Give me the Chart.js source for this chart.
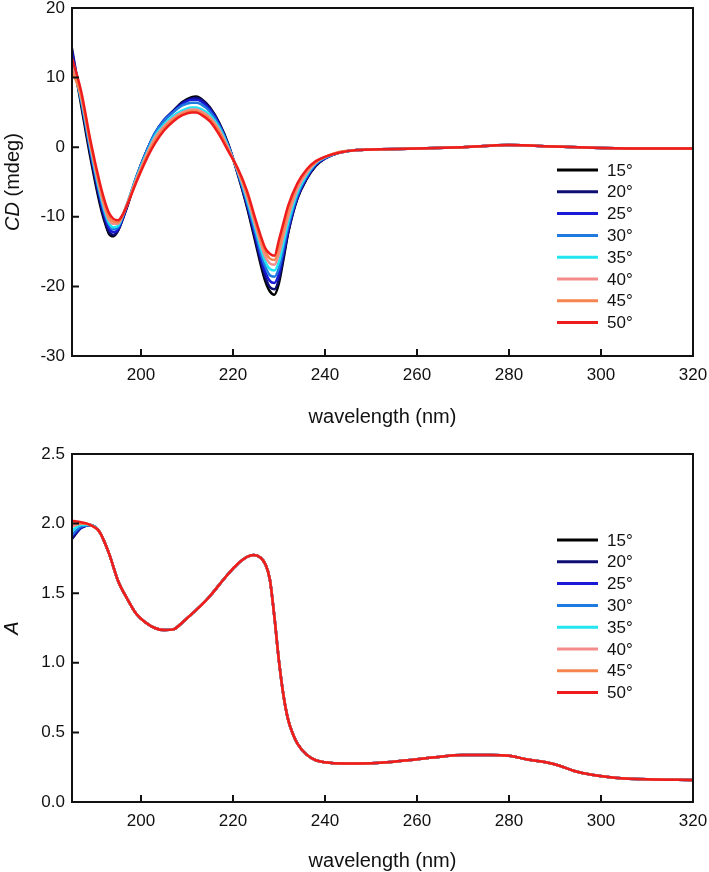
<!DOCTYPE html>
<html>
<head>
<meta charset="utf-8">
<script src="https://cdn.jsdelivr.net/npm/chart.js@4.4.1/dist/chart.umd.min.js"></script>
<style>
  html, body { margin: 0; padding: 0; background: #fff; overflow: hidden; }
  #wrap { position: relative; width: 709px; height: 872px; }
  .panel { position: absolute; left: 0; width: 709px; }
</style>
</head>
<body>
<div id="wrap">
  <div class="panel" style="top:0;height:430px"><canvas id="cdChart"></canvas></div>
  <div class="panel" style="top:430px;height:442px"><canvas id="absChart"></canvas></div>
</div>
<script>
// Temperaturas y colores
const tempLabels = ['15°', '20°', '25°', '30°', '35°', '40°', '45°', '50°'];
const tempColors = ['#000000', '#0d0d73', '#1a1ad6', '#1f7ae0', '#22e5f0', '#f48c8c', '#f5844f', '#ee1c1c'];

// Ejes
const waveTicks = [200, 220, 240, 260, 280, 300, 320];
const cdTicks = [-30, -20, -10, 0, 10, 20];
const absTicks = [0, 0.5, 1, 1.5, 2, 2.5];

// === CD (mdeg) ===
const cdWave = [185, 187, 189, 191, 192, 193, 194, 195, 196, 197, 199, 201, 203, 205, 207, 209, 211, 212, 213, 215,
  217, 219, 221, 223, 225, 226, 227, 228, 229, 230, 231, 232, 234, 236, 238, 240, 243,
  247, 252, 260, 270, 280, 290, 300, 310, 320];
const cdTail = [-0.4, -0.3, -0.2, 0.0, 0.3, 0.1, -0.1, -0.2, -0.2];
const cd15 = [13.5, 6.0, -1.5, -8.0, -10.5, -12.4, -12.8, -12.0, -10.3, -8.5, -4.3, -0.9, 1.8, 3.8, 5.2, 6.5, 7.2, 7.3, 7.0, 5.7,
  3.5, 0.4, -3.8, -8.5, -14.0, -16.8, -19.2, -20.7, -21.2, -19.5, -16.0, -12.3, -7.4, -4.6, -2.7, -1.6, -0.8];
const cd20 = [14.2, 6.5, -1.0, -7.6, -10.2, -12.1, -12.6, -12.0, -10.4, -8.5, -4.4, -0.9, 1.9, 3.9, 5.2, 6.4, 7.0, 7.1, 6.9, 5.6,
  3.4, 0.3, -3.7, -8.3, -13.6, -16.3, -18.6, -20.1, -20.4, -18.9, -15.6, -12.2, -7.3, -4.5, -2.6, -1.6, -0.8];
const cd25 = [13.6, 6.8, -0.5, -7.0, -9.7, -11.6, -12.2, -11.8, -10.2, -8.3, -4.3, -0.9, 2.0, 3.9, 5.1, 6.2, 6.8, 6.8, 6.6, 5.4,
  3.3, 0.2, -3.6, -8.0, -13.1, -15.7, -17.9, -19.2, -19.5, -18.1, -15.0, -11.8, -7.1, -4.4, -2.5, -1.6, -0.8];
const cd30 = [12.5, 6.6, -0.4, -6.7, -9.3, -11.1, -11.8, -11.5, -10.0, -8.1, -4.2, -0.9, 2.0, 3.8, 5.0, 6.0, 6.4, 6.4, 6.2, 5.1,
  3.1, 0.1, -3.5, -7.8, -12.6, -15.1, -17.1, -18.4, -18.6, -17.3, -14.4, -11.4, -6.9, -4.2, -2.4, -1.5, -0.8];
const cd35 = [12.0, 7.0, 0.0, -6.3, -8.9, -10.8, -11.5, -11.3, -9.9, -8.1, -4.4, -1.2, 1.6, 3.3, 4.5, 5.3, 5.7, 5.7, 5.5, 4.6,
  2.8, 0.0, -3.4, -7.4, -12.0, -14.4, -16.4, -17.5, -17.7, -16.4, -13.6, -10.8, -6.5, -4.0, -2.3, -1.5, -0.8];
const cd40 = [11.5, 7.2, 0.3, -5.9, -8.5, -10.4, -11.0, -11.0, -9.8, -8.1, -4.6, -1.4, 1.3, 3.0, 4.2, 5.0, 5.4, 5.4, 5.2, 4.3,
  2.5, -0.2, -3.3, -7.0, -11.5, -13.8, -15.7, -16.7, -16.9, -15.3, -12.6, -10.0, -6.0, -3.7, -2.2, -1.4, -0.8];
const cd45 = [11.0, 7.4, 0.6, -5.5, -8.0, -10.0, -10.7, -10.8, -9.8, -8.2, -4.8, -1.7, 0.9, 2.7, 4.0, 4.8, 5.2, 5.2, 4.9, 4.0,
  2.2, -0.4, -3.2, -6.6, -11.0, -13.2, -15.0, -16.0, -16.2, -14.3, -11.7, -9.2, -5.4, -3.4, -2.1, -1.4, -0.7];
const cd50 = [12.8, 8.0, 1.0, -5.0, -7.5, -9.4, -10.3, -10.5, -9.7, -8.3, -5.0, -2.0, 0.5, 2.4, 3.7, 4.6, 5.0, 5.0, 4.7, 3.7,
  1.8, -0.6, -3.0, -6.2, -10.6, -12.7, -14.5, -15.3, -15.6, -13.3, -10.8, -8.4, -5.2, -3.2, -2.0, -1.4, -0.8];

// === Absorbancia ===
const absWave = [185, 187, 189, 191, 193, 195, 197, 199, 201, 203, 205, 207, 209, 211, 213, 215, 217, 219, 221, 223,
  224.5, 226, 227, 228, 229, 230, 231, 232, 233, 234, 236, 238, 240, 244, 250, 258, 264, 270, 276, 280,
  284, 288, 291, 294, 298, 303, 310, 320];
const absCommon = [1.94, 1.79, 1.59, 1.46, 1.35, 1.29, 1.25, 1.235, 1.24, 1.29, 1.35, 1.41, 1.48, 1.56, 1.64, 1.71, 1.76,
  1.775, 1.755, 1.71, 1.60, 1.33, 1.01, 0.76, 0.59, 0.49, 0.42, 0.34, 0.30, 0.285, 0.276, 0.278, 0.30, 0.322, 0.338, 0.338,
  0.332, 0.305, 0.285, 0.26, 0.225, 0.195, 0.175, 0.163, 0.158];
const abs15 = [1.90, 1.97, 1.99];
const abs20 = [1.89, 1.97, 1.99];
const abs25 = [1.91, 1.97, 1.99];
const abs30 = [1.92, 1.98, 1.99];
const abs35 = [1.95, 1.99, 1.99];
const abs40 = [1.98, 2.00, 1.99];
const abs45 = [2.00, 2.00, 1.99];
const abs50 = [2.02, 2.01, 1.99];

const FONT = "'Liberation Sans', Arial, sans-serif";
const INK = '#111';

// Marco, ticks internos, títulos de ejes y leyenda
function framePlugin(cfg) {
    return {
        id: 'frame',
        afterDatasetsDraw(chart) {
            const {ctx, chartArea: a, scales} = chart;
            ctx.save();
            ctx.strokeStyle = INK;
            ctx.lineWidth = 2;
            ctx.strokeRect(a.left, a.top, a.right - a.left, a.bottom - a.top);
            ctx.beginPath();
            scales.x.ticks.forEach(t => {
                const px = scales.x.getPixelForValue(t.value);
                if (px > a.left + 2 && px < a.right - 2) { ctx.moveTo(px, a.bottom); ctx.lineTo(px, a.bottom - 7); }
            });
            scales.y.ticks.forEach(t => {
                const py = scales.y.getPixelForValue(t.value);
                if (py > a.top + 2 && py < a.bottom - 2) { ctx.moveTo(a.left, py); ctx.lineTo(a.left + 7, py); }
            });
            ctx.stroke();

            // título x
            ctx.fillStyle = INK;
            ctx.font = `20px ${FONT}`;
            ctx.textAlign = 'center';
            ctx.textBaseline = 'alphabetic';
            ctx.fillText('wavelength (nm)', (a.left + a.right) / 2, cfg.xTitleY);

            // título y (rotado, parte en cursiva)
            ctx.translate(cfg.yTitleX, (a.top + a.bottom) / 2);
            ctx.rotate(-Math.PI / 2);
            ctx.textBaseline = 'middle';
            ctx.textAlign = 'left';
            let total = 0;
            cfg.yTitle.forEach(p => { ctx.font = `${p.style} 20px ${FONT}`; total += ctx.measureText(p.text).width; });
            let cx = -total / 2;
            cfg.yTitle.forEach(p => {
                ctx.font = `${p.style} 20px ${FONT}`;
                ctx.fillText(p.text, cx, 0);
                cx += ctx.measureText(p.text).width;
            });
            ctx.setTransform(1, 0, 0, 1, 0, 0);

            // leyenda
            ctx.font = `17px ${FONT}`;
            ctx.textAlign = 'left';
            ctx.textBaseline = 'middle';
            ctx.lineWidth = 3;
            chart.data.datasets.forEach((ds, i) => {
                const y = cfg.legendY + i * 21.8;
                ctx.strokeStyle = ds.borderColor;
                ctx.beginPath();
                ctx.moveTo(557, y);
                ctx.lineTo(598, y);
                ctx.stroke();
                ctx.fillStyle = INK;
                ctx.fillText(ds.label, 607, y + 1);
            });
            ctx.restore();
        }
    };
}

// 50° queda encima (order más bajo se dibuja al final)
function makeDatasets(wave, series) {
    return series.map((vals, i) => ({
        label: tempLabels[i],
        data: wave.map((w, j) => ({x: w, y: vals[j]})),
        borderColor: tempColors[i],
        borderWidth: 2.5,
        pointRadius: 0,
        cubicInterpolationMode: 'monotone',
        fill: false,
        order: series.length - i
    }));
}

function baseOptions(yMin, yMax, yTicks, yFmt, padTop, xHeight) {
    return {
        responsive: true,
        maintainAspectRatio: false,
        animation: false,
        devicePixelRatio: 1,
        layout: {padding: {top: padTop, right: 16, left: 0, bottom: 0}},
        plugins: {legend: {display: false}, tooltip: {enabled: false}},
        scales: {
            x: {
                type: 'linear', min: 185, max: 320,
                afterBuildTicks: s => { s.ticks = waveTicks.map(v => ({value: v})); },
                afterFit: s => { s.height = xHeight; s.paddingLeft = 0; s.paddingRight = 0; },
                grid: {display: false, drawTicks: false},
                border: {display: false},
                ticks: {font: {family: FONT, size: 17, lineHeight: 1}, color: INK, padding: 11, maxRotation: 0, autoSkip: false}
            },
            y: {
                type: 'linear', min: yMin, max: yMax,
                afterBuildTicks: s => { s.ticks = yTicks.map(v => ({value: v})); },
                afterFit: s => { s.width = 72; s.paddingTop = 0; s.paddingBottom = 0; },
                grid: {display: false, drawTicks: false},
                border: {display: false},
                ticks: {font: {family: FONT, size: 17, lineHeight: 1}, color: INK, padding: 7, callback: yFmt}
            }
        }
    };
}

new Chart(document.getElementById('cdChart'), {
    type: 'line',
    data: {
        datasets: makeDatasets(cdWave, [cd15, cd20, cd25, cd30, cd35, cd40, cd45, cd50].map(s => s.concat(cdTail)))
    },
    options: baseOptions(-30, 20, cdTicks, v => String(v), 8, 74),
    plugins: [framePlugin({
        xTitleY: 423, yTitleX: 13, legendY: 170,
        yTitle: [{text: 'CD', style: 'italic'}, {text: ' (mdeg)', style: 'normal'}]
    })]
});

new Chart(document.getElementById('absChart'), {
    type: 'line',
    data: {
        datasets: makeDatasets(absWave, [abs15, abs20, abs25, abs30, abs35, abs40, abs45, abs50].map(s => s.concat(absCommon)))
    },
    options: baseOptions(0, 2.5, absTicks, v => v.toFixed(1), 24, 70),
    plugins: [framePlugin({
        xTitleY: 437, yTitleX: 12, legendY: 110,
        yTitle: [{text: 'A', style: 'italic'}]
    })]
});
</script>
</body>
</html>
